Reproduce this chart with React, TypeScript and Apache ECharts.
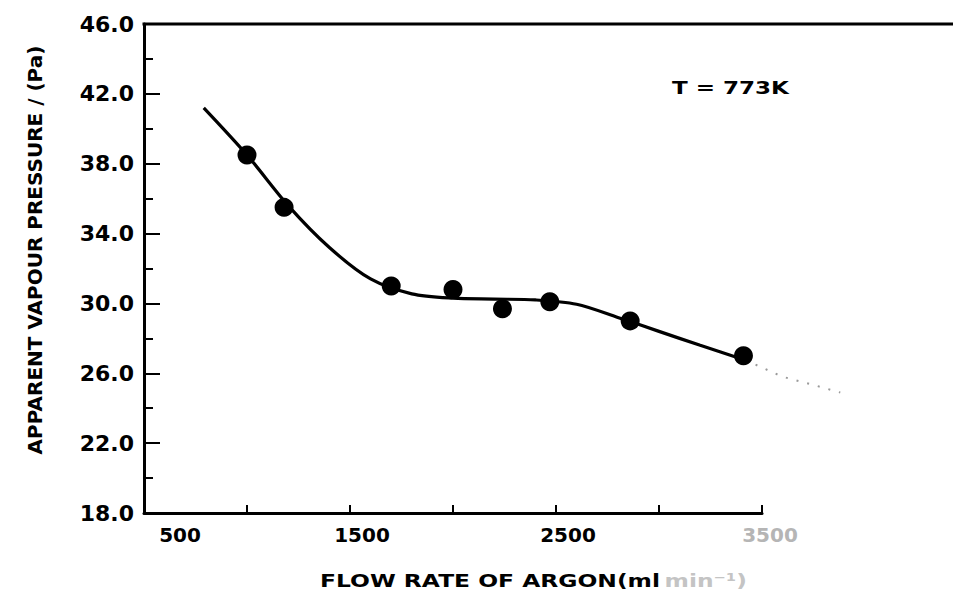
import React, { useEffect, useRef } from "react";
import * as echarts from "echarts";

// measured points
const flowRate = [1000, 1180, 1700, 2000, 2240, 2470, 2860, 3410];
const pressure = [38.5, 35.5, 31.0, 30.8, 29.7, 30.1, 29.0, 27.0];

// fitted curve (solid) and its faint extension
const curveFlow = [790, 1000, 1200, 1400, 1600, 1800, 2000, 2200, 2400, 2600, 2800, 3000, 3200, 3420];
const curvePressure = [41.2, 38.5, 35.6, 33.2, 31.4, 30.55, 30.3, 30.25, 30.2, 29.95, 29.2, 28.4, 27.6, 26.75];
const tailFlow = [3420, 3600, 3760, 3880];
const tailPressure = [26.75, 25.8, 25.3, 24.9];

// tick labels
const yTickLabels = [18, 22, 26, 30, 34, 38, 42, 46];
const xTickLabels = [500, 1500, 2500, 3500];

const FONT = "DejaVu Sans";

export default function App() {
  const ref = useRef<HTMLDivElement>(null);

  useEffect(() => {
    if (!ref.current) return;
    const chart = echarts.init(ref.current, null, { renderer: "svg" });
    const labelRich = (pad: number, color = "#000") => ({
      fontFamily: FONT,
      fontWeight: "bold" as const,
      fontSize: 20,
      color,
      padding: [0, 0, 0, pad],
    });
    chart.setOption({
      animation: false,
      backgroundColor: "#fff",
      grid: { left: 144, top: 24, right: 191, bottom: 83, containLabel: false },
      xAxis: {
        type: "value",
        min: 500,
        max: 3500,
        interval: 500,
        axisLine: { show: true, lineStyle: { color: "#000", width: 3 } },
        axisTick: { show: true, inside: true, length: 8, lineStyle: { color: "#000", width: 2 } },
        splitLine: { show: false },
        axisLabel: {
          showMinLabel: true,
          showMaxLabel: true,
          margin: 12,
          formatter: (v: number) => {
            if (!xTickLabels.includes(v)) return "";
            if (v === xTickLabels[0]) return "{f|" + v + "}";
            if (v === xTickLabels[xTickLabels.length - 1]) return "{g|" + v + "}";
            return "{n|" + v + "}";
          },
          rich: {
            f: labelRich(72),
            n: labelRich(24),
            g: labelRich(16, "#b5b5b5"),
          },
        },
      },
      yAxis: [
        {
          type: "value",
          min: 18,
          max: 46,
          interval: 2,
          axisLine: { show: true, lineStyle: { color: "#000", width: 3 } },
          axisTick: { show: true, inside: true, length: 9, lineStyle: { color: "#000", width: 2 } },
          axisLabel: { show: false },
          splitLine: { show: false },
        },
        {
          type: "value",
          min: 18,
          max: 46,
          interval: 2,
          position: "left",
          offset: 0,
          axisLine: { show: false },
          axisTick: {
            show: true,
            inside: true,
            length: 16,
            customValues: yTickLabels,
            lineStyle: { color: "#000", width: 2 },
          },
          axisLabel: {
            show: true,
            customValues: yTickLabels,
            margin: 10,
            fontFamily: FONT,
            fontWeight: "bold",
            fontSize: 22,
            color: "#000",
            formatter: (v: number) => v.toFixed(1),
          },
          splitLine: { show: false },
        },
      ],
      series: [
        {
          type: "line",
          data: curveFlow.map((x, i) => [x, curvePressure[i]]),
          smooth: 0.3,
          symbol: "none",
          lineStyle: { color: "#000", width: 3.2 },
          z: 2,
        },
        {
          type: "custom",
          data: [[tailFlow[0], tailPressure[0]]],
          clip: false,
          silent: true,
          z: 2,
          renderItem: (_params: any, api: any) => ({
            type: "polyline",
            shape: { points: tailFlow.map((x, i) => api.coord([x, tailPressure[i]])) },
            style: { stroke: "#9a9a9a", lineWidth: 2, lineDash: [2, 9], fill: null },
          }),
        },
        {
          type: "scatter",
          data: flowRate.map((x, i) => [x, pressure[i]]),
          symbol: "circle",
          symbolSize: 19,
          itemStyle: { color: "#000", opacity: 1 },
          z: 3,
        },
      ],
    });

    const topLeft = chart.convertToPixel({ gridIndex: 0 }, [500, 46]) as number[];
    chart.setOption({
      graphic: [
        {
          type: "line",
          shape: { x1: topLeft[0] - 1.5, y1: topLeft[1], x2: 953, y2: topLeft[1] },
          style: { stroke: "#000", lineWidth: 3 },
          silent: true,
        },
        {
          type: "text",
          x: 672,
          y: 88,
          scaleX: 1.28,
          style: {
            text: "T = 773K",
            fontFamily: FONT,
            fontWeight: "bold",
            fontSize: 18,
            fill: "#000",
            textAlign: "left",
            textVerticalAlign: "middle",
          },
        },
        {
          type: "text",
          x: 35,
          y: 250,
          rotation: Math.PI / 2,
          style: {
            text: "APPARENT VAPOUR PRESSURE / (Pa)",
            fontFamily: FONT,
            fontWeight: "bold",
            fontSize: 20,
            fill: "#000",
            textAlign: "center",
            textVerticalAlign: "middle",
          },
        },
        {
          type: "text",
          x: 320,
          y: 581,
          scaleX: 1.3,
          style: {
            text: "{a|FLOW RATE OF ARGON(ml} {b|min⁻¹)}",
            textAlign: "left",
            textVerticalAlign: "middle",
            rich: {
              a: { fontFamily: FONT, fontWeight: "bold", fontSize: 18, fill: "#000" },
              b: { fontFamily: FONT, fontWeight: "bold", fontSize: 18, fill: "#c4c4c4" },
            },
          },
        },
      ],
    });

    return () => chart.dispose();
  }, []);

  return (
    <div
      ref={ref}
      style={{ position: "fixed", left: 0, top: 0, width: 953, height: 596, background: "#fff" }}
    />
  );
}
